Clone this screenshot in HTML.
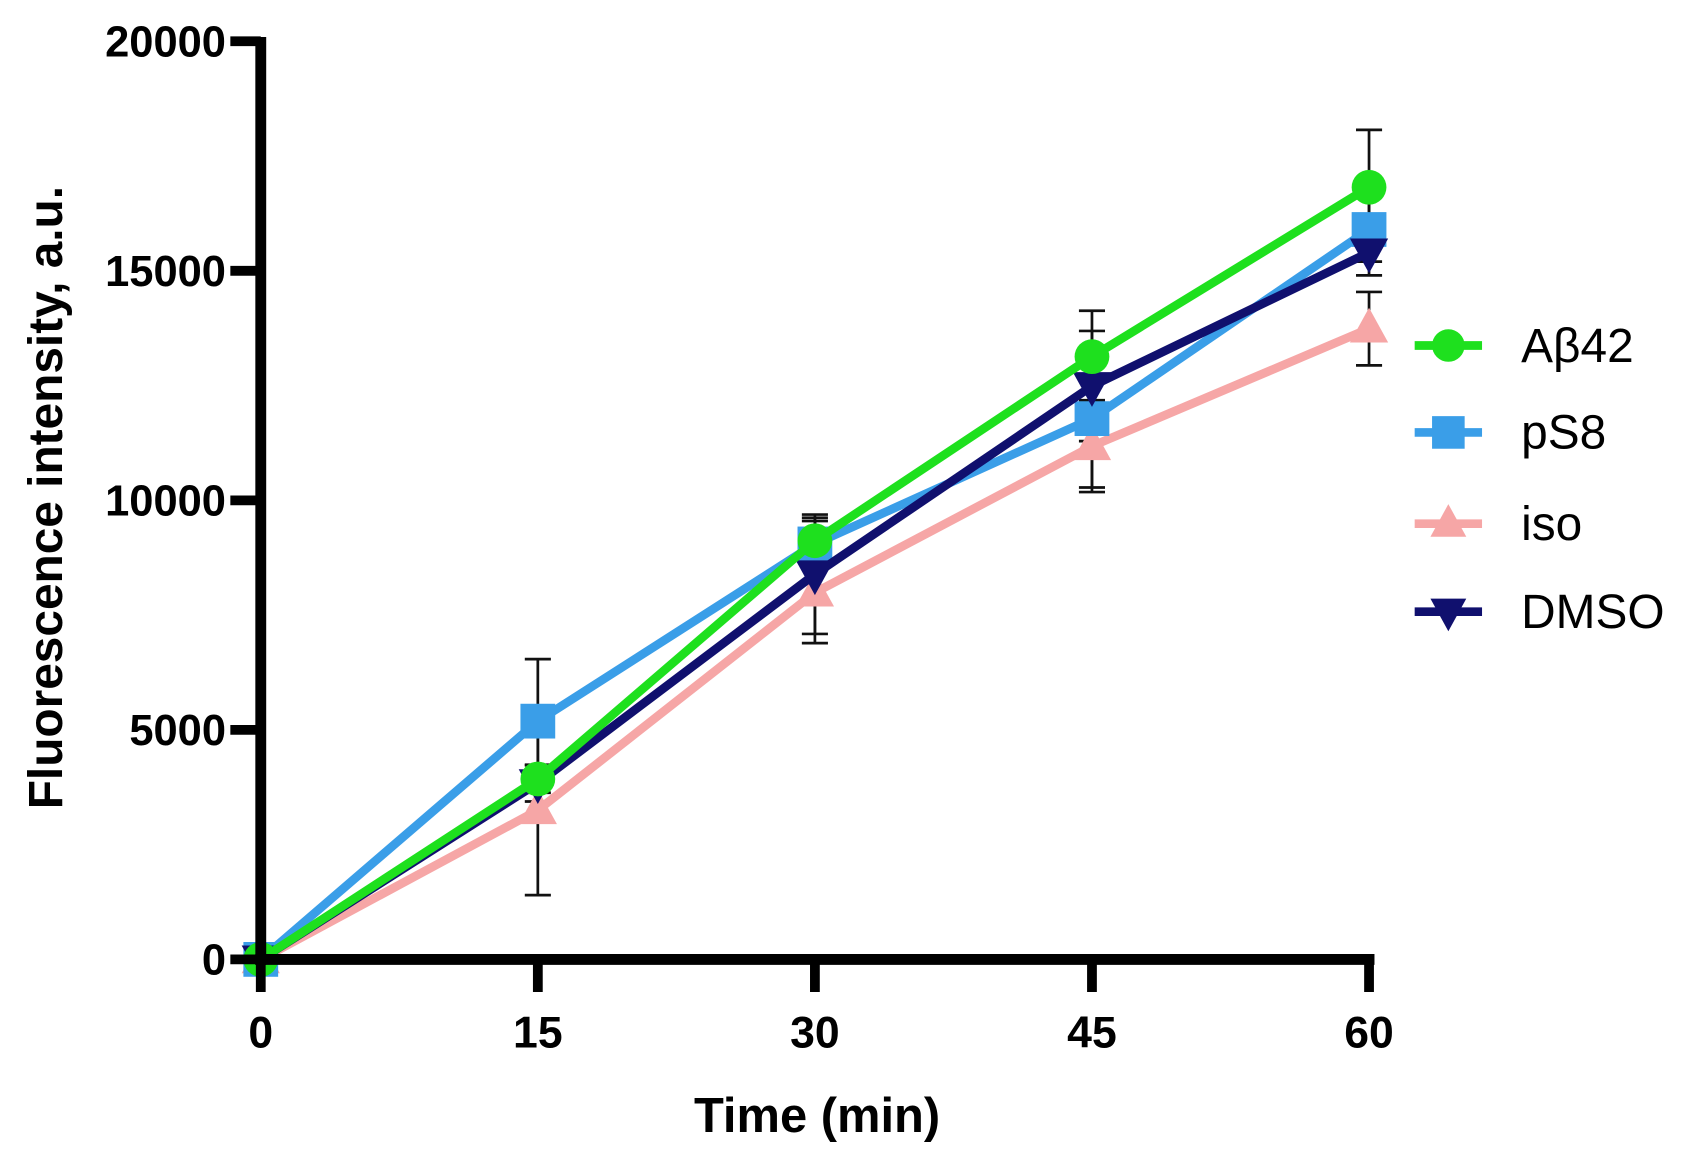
<!DOCTYPE html>
<html><head><meta charset="utf-8"><style>body{margin:0;background:#fff}svg{display:block}</style></head>
<body>
<svg id="chart" width="1695" height="1168" viewBox="0 0 1560 1075" preserveAspectRatio="none" xmlns="http://www.w3.org/2000/svg" font-family="Liberation Sans, sans-serif"></svg>
<script>
const timePoints = [0, 15, 30, 45, 60];
const xTicks = [0, 15, 30, 45, 60];
const yTicks = [0, 5000, 10000, 15000, 20000];
const seriesNames = ["Aβ42", "pS8", "iso", "DMSO"];
const abValues = [0, 3930, 9120, 13130, 16820];
const abErrors = [0, 300, 500, 1000, 1250];
const ps8Values = [0, 5190, 9050, 11780, 15900];
const ps8Errors = [0, 1350, 500, 1500, 700];
const isoValues = [0, 3250, 7990, 11180, 13740];
const isoErrors = [0, 1850, 1100, 1000, 800];
const dmsoValues = [0, 3840, 8390, 12490, 15400];
const dmsoErrors = [0, 400, 1300, 1200, 500];

const svg = document.getElementById('chart');
const NS = 'http://www.w3.org/2000/svg';
const X0 = 240, X1 = 1260, Y0 = 883, Y1 = 38;
function xs(v){ return X0 + (v - 0) / 60 * (X1 - X0); }
function ys(v){ return Y0 - v / 20000 * (Y0 - Y1); }
function mk(tag, attrs, parent){
  const e = document.createElementNS(NS, tag);
  for (const k in attrs) e.setAttribute(k, attrs[k]);
  (parent || svg).appendChild(e);
  return e;
}
const colors = ["#1ee01e", "#3a9ee8", "#f6a6a6", "#10106e"];
const vals = [abValues, ps8Values, isoValues, dmsoValues];
const errs = [abErrors, ps8Errors, isoErrors, dmsoErrors];
const shapes = ["circle", "square", "triangle", "down"];

function marker(g, shape, cx, cy, color, s){
  let e;
  if (shape === "circle") e = mk('circle', {cx: cx, cy: cy, r: s, fill: color}, g);
  else if (shape === "square") e = mk('rect', {x: cx - s, y: cy - s, width: 2*s, height: 2*s, fill: color}, g);
  else if (shape === "triangle") e = mk('polygon', {points: `${cx},${cy-s*1.2} ${cx-s*1.1},${cy+s*0.8} ${cx+s*1.1},${cy+s*0.8}`, fill: color}, g);
  else e = mk('polygon', {points: `${cx},${cy+s*1.2} ${cx-s*1.1},${cy-s*0.8} ${cx+s*1.1},${cy-s*0.8}`, fill: color}, g);
  return e;
}

const eg = mk('g', {});


[2,1,3,0].forEach(si => {
  timePoints.forEach((t, i) => {
    if (!errs[si][i]) return;
    const x = xs(t), yt = ys(vals[si][i] + errs[si][i]), yb = ys(vals[si][i] - errs[si][i]);
    mk('line', {x1: x, x2: x, y1: yt, y2: yb, stroke: '#111', 'stroke-width': 2.5}, eg);
    mk('line', {x1: x-12, x2: x+12, y1: yt, y2: yt, stroke: '#111', 'stroke-width': 2.5}, eg);
    mk('line', {x1: x-12, x2: x+12, y1: yb, y2: yb, stroke: '#111', 'stroke-width': 2.5}, eg);
  });
});

[2,1,3,0].forEach(si => {
  const g = mk('g', {});
  
  
  const pts = timePoints.map((t, i) => xs(t) + ',' + ys(vals[si][i])).join(' ');
  mk('polyline', {points: pts, fill: 'none', stroke: colors[si], 'stroke-width': 8, 'stroke-linejoin': 'round'}, g);
  timePoints.forEach((t, i) => {
    const m = marker(g, shapes[si], xs(t), ys(vals[si][i]), colors[si], 16);
    
    
  });
});

const ax = mk('g', {});


mk('line', {x1: X0, x2: X0, y1: Y1 - 4, y2: Y0 + 5, stroke: '#000', 'stroke-width': 10}, ax);
mk('line', {x1: X0 - 5, x2: X1 + 5, y1: Y0, y2: Y0, stroke: '#000', 'stroke-width': 10}, ax);
yTicks.forEach(v => {
  mk('line', {x1: X0 - 28, x2: X0, y1: ys(v), y2: ys(v), stroke: '#000', 'stroke-width': 9}, ax);
  const t = mk('text', {x: X0 - 32, y: ys(v) + 14, 'text-anchor': 'end', 'font-size': 40, 'font-weight': 'bold'}, ax);
  t.textContent = v;
  
  
});
xTicks.forEach(v => {
  mk('line', {x1: xs(v), x2: xs(v), y1: Y0, y2: Y0 + 30, stroke: '#000', 'stroke-width': 9}, ax);
  const t = mk('text', {x: xs(v), y: Y0 + 81, 'text-anchor': 'middle', 'font-size': 41, 'font-weight': 'bold'}, ax);
  t.textContent = v;
  
  
});
const xt = mk('text', {x: 752, y: 1042, 'text-anchor': 'middle', 'font-size': 45, 'font-weight': 'bold'});
xt.textContent = 'Time (min)';


const yt = mk('text', {x: 0, y: 0, 'text-anchor': 'middle', 'font-size': 44, 'font-weight': 'bold', transform: 'translate(57,458) rotate(-90)'});
yt.textContent = 'Fluorescence intensity, a.u.';



const lg = mk('g', {});


const ly = [318, 398, 482, 563];
seriesNames.forEach((n, si) => {
  const e = mk('g', {}, lg);
  
  
  mk('line', {x1: 1302, x2: 1364, y1: ly[si], y2: ly[si], stroke: colors[si], 'stroke-width': 8}, e);
  marker(e, shapes[si], 1333, ly[si], colors[si], 15);
  const t = mk('text', {x: 1400, y: ly[si] + 15, 'font-size': 44}, e);
  t.textContent = n;
});
</script>
</body></html>
